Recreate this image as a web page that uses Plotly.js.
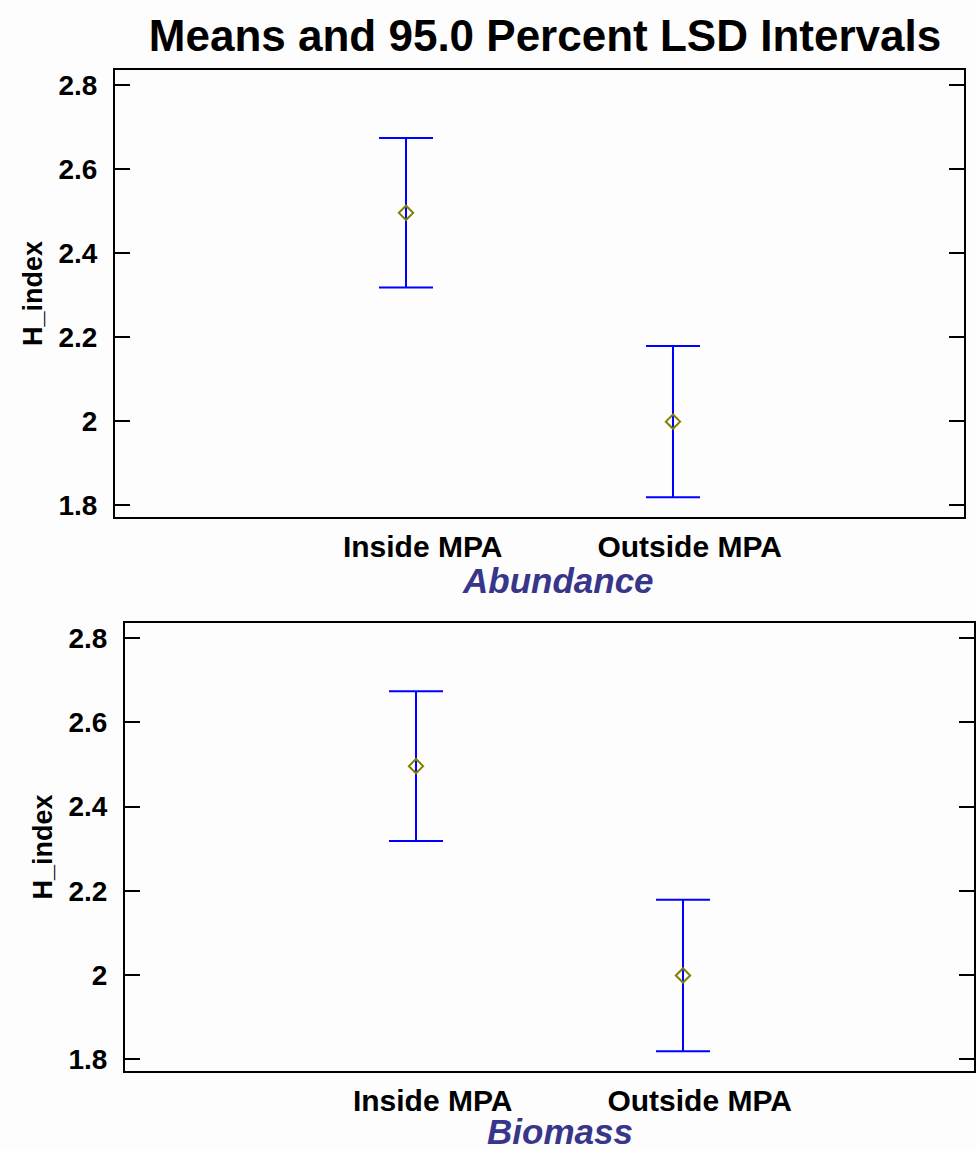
<!DOCTYPE html>
<html>
<head>
<meta charset="utf-8">
<script src="https://cdn.plot.ly/plotly-3.0.1.min.js"></script>
<style>html,body{margin:0;padding:0;background:#fdfdfd;}</style>
</head>
<body>
<div id="chart" style="width:977px;height:1150px;"></div>
<script>
// Data
const categories = ["Inside MPA", "Outside MPA"];
const abundanceMeans = [2.496, 1.999];
const abundanceLower = [2.318, 1.819];
const abundanceUpper = [2.674, 2.179];
const biomassMeans = [2.496, 1.999];
const biomassLower = [2.318, 1.819];
const biomassUpper = [2.674, 2.179];
const yTickValues = [1.8, 2.0, 2.2, 2.4, 2.6, 2.8];
const yTickLabels = ["1.8", "2", "2.2", "2.4", "2.6", "2.8"];
const panelTitles = ["Abundance", "Biomass"];

const blue = "#0000ff";
const olive = "#808000";
const titleBlue = "#38368a";

function makeTrace(means, lower, upper, xa, ya) {
  return {
    type: "scatter",
    mode: "markers",
    x: categories,
    y: means,
    xaxis: xa,
    yaxis: ya,
    showlegend: false,
    marker: {symbol: "diamond-open", size: 11, color: olive, line: {color: olive, width: 2}},
    error_y: {
      type: "data",
      symmetric: false,
      array: upper.map((u, i) => u - means[i]),
      arrayminus: lower.map((l, i) => means[i] - l),
      color: blue,
      thickness: 2,
      width: 27
    }
  };
}

const traces = [
  makeTrace(abundanceMeans, abundanceLower, abundanceUpper, "x", "y"),
  makeTrace(biomassMeans, biomassLower, biomassUpper, "x2", "y2")
];

const fam = "Liberation Sans, Arial, sans-serif";
const xTitleFont = {family: fam, size: 35, color: titleBlue, weight: "bold", style: "italic"};
const yTitleFont = {family: "Liberation Sans Narrow, Arial Narrow, Liberation Sans, sans-serif", size: 27, color: "#000", weight: "bold"};
// tick labels in the reference sit slightly right of the marks
const pad = "\u00a0\u00a0\u00a0\u00a0";

function xAxis(domain, anchor) {
  return {
    domain: domain, anchor: anchor,
    type: "category",
    range: [-1.09, 2.09],
    showgrid: false, zeroline: false,
    showline: true, linecolor: "#000", linewidth: 2, mirror: true,
    ticks: "",
    tickmode: "array",
    tickvals: categories,
    ticktext: categories.map(c => pad + c),
    tickfont: {family: fam, size: 30, color: "#000", weight: "bold"},
    ticklabelstandoff: 2,
    automargin: false
  };
}
function yAxis(domain, anchor) {
  return {
    domain: domain, anchor: anchor,
    range: [1.772, 2.836],
    showgrid: false, zeroline: false,
    showline: true, linecolor: "#000", linewidth: 2, mirror: "ticks",
    ticks: "inside", ticklen: 15, tickwidth: 2, tickcolor: "#000",
    tickvals: yTickValues, ticktext: yTickLabels,
    tickfont: {family: fam, size: 28, color: "#000", weight: "bold"},
    ticklabelstandoff: 10,
    automargin: false,
    title: {text: "H_index", font: yTitleFont, standoff: 8}
  };
}

const layout = {
  width: 977, height: 1150,
  margin: {l: 0, r: 0, t: 0, b: 0},
  paper_bgcolor: "#fdfdfd",
  plot_bgcolor: "#fdfdfd",
  title: {
    text: "Means and 95.0 Percent LSD Intervals",
    font: {family: fam, size: 44, color: "#000", weight: "bold"},
    x: 545 / 977, xanchor: "center", y: 1 - 36 / 1150, yanchor: "middle", xref: "paper", yref: "paper"
  },
  xaxis: xAxis([115 / 977, 964 / 977], "y"),
  yaxis: yAxis([1 - 517 / 1150, 1 - 70 / 1150], "x"),
  xaxis2: xAxis([125 / 977, 974 / 977], "y2"),
  yaxis2: yAxis([1 - 1071 / 1150, 1 - 623 / 1150], "x2"),
  annotations: [
    {text: panelTitles[0], xref: "paper", yref: "paper", x: 558 / 977, y: 1 - 580 / 1150,
     xanchor: "center", yanchor: "middle", showarrow: false, font: xTitleFont},
    {text: panelTitles[1], xref: "paper", yref: "paper", x: 560 / 977, y: 1 - 1131 / 1150,
     xanchor: "center", yanchor: "middle", showarrow: false, font: xTitleFont}
  ],
  showlegend: false
};

Plotly.newPlot("chart", traces, layout, {displayModeBar: false, staticPlot: true});
</script>
</body>
</html>
